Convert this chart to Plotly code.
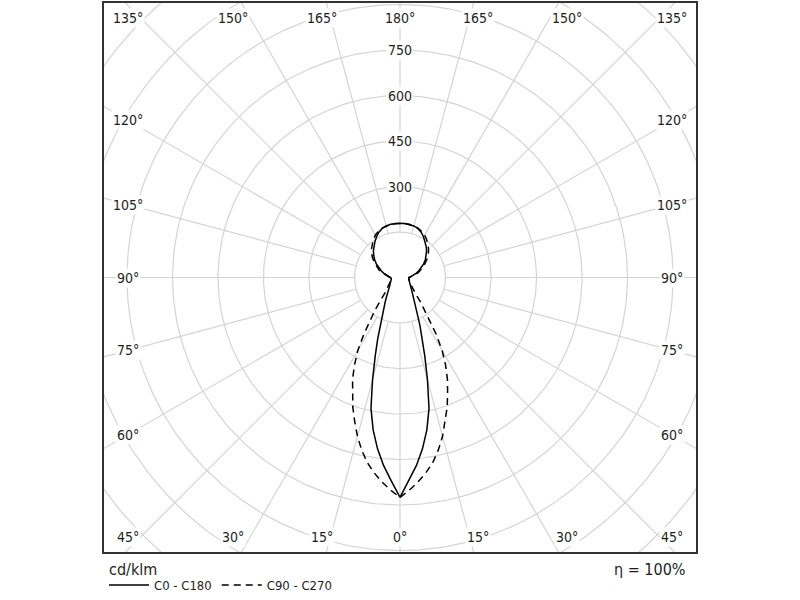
import numpy as np
import plotly.graph_objects as go

# ---------------- data (cd/klm) ----------------
angles_deg = [0, 2.5, 5, 7.5, 10, 12.5, 15, 17.5, 20, 22.5, 25, 27.5, 30, 32.5, 35, 37.5, 40, 42.5, 45,
              50, 55, 60, 65, 70, 75, 80, 85, 90,
              95, 100, 105, 110, 115, 120, 125, 130, 135, 140, 145, 150, 155, 160, 165, 170, 175, 180]
c0_c180 = [725, 670, 622, 569, 510, 442, 350, 272, 215, 172, 137, 116, 100, 88, 78, 69, 62, 57, 52,
           45, 40, 36, 33, 31, 30, 29, 29, 30,
           36, 45, 56, 66, 77, 90, 102, 113, 124, 134, 144, 155, 165, 172, 176, 178, 179, 179]
c90_c270 = [725, 702, 677, 650, 620, 583, 542, 497, 455, 410, 370, 325, 278, 222, 168, 135, 105, 82, 68,
            53, 45, 40, 36, 33, 31, 30, 29, 29,
            38, 50, 62, 74, 85, 96, 110, 122, 133, 143, 153, 162, 168, 173, 176, 178, 179, 179]
series_names = ["C0 - C180", "C90 - C270"]

ring_values = [150, 300, 450, 600, 750, 900, 1050, 1200, 1350]
ring_label_values = [300, 450, 600, 750]
spoke_angles = list(range(0, 360, 15))
tick_angles = [0, 15, 30, 45, 60, 75, 90, 105, 120, 135, 150, 165, 180]
tick_labels = [f"{a}°" for a in tick_angles]
unit_label = "cd/klm"
efficiency_label = "η = 100%"

# ---------------- geometry / style ----------------
W, H = 800, 600
ML, MR, MT, MB = 104, 104, 3, 48
PX_PER_UNIT = 45.5 / 150.0
CX_PX = (ML + (W - MR)) / 2.0
CY_PX = (MT + (H - MB)) / 2.0
x_range = [-(CX_PX - ML) / PX_PER_UNIT, (W - MR - CX_PX) / PX_PER_UNIT]
y_range = [-(H - MB - CY_PX) / PX_PER_UNIT, (CY_PX - MT) / PX_PER_UNIT]

FONT = "DejaVu Sans Condensed, DejaVu Sans, Verdana, sans-serif"
GRID_COLOR = "#d4d4d4"
TEXT_COLOR = "#1e1e1e"


def polar_xy(theta_deg, r, side=1.0):
    t = np.radians(np.asarray(theta_deg, dtype=float))
    r = np.asarray(r, dtype=float)
    return side * r * np.sin(t), -r * np.cos(t)


fig = go.Figure()

# grid: rings
gx, gy = [], []
phi = np.linspace(0, 360, 361)
for rv in ring_values:
    x, y = polar_xy(phi, np.full_like(phi, rv))
    gx += list(x) + [None]
    gy += list(y) + [None]
# grid: spokes (from the innermost ring outward)
for a in spoke_angles:
    x, y = polar_xy([a, a], [ring_values[0], 1500])
    gx += list(x) + [None]
    gy += list(y) + [None]
fig.add_trace(go.Scatter(x=gx, y=gy, mode="lines", line=dict(color=GRID_COLOR, width=1.2),
                         hoverinfo="skip", showlegend=False))

# curves (right half C0 / C90, left half C180 / C270, mirrored)
for vals, name, dash in [(c0_c180, series_names[0], "solid"), (c90_c270, series_names[1], "7px,5px")]:
    xr, yr = polar_xy(angles_deg, vals, 1.0)
    xl, yl = polar_xy(angles_deg[::-1], vals[::-1], -1.0)
    fig.add_trace(go.Scatter(x=np.concatenate([xr, xl]), y=np.concatenate([yr, yl]), mode="lines",
                             name=name, line=dict(color="black", width=1.5, dash=dash)))

annotations = []
# radial value labels along the 180° spoke
for rv in ring_label_values:
    x, y = polar_xy(180, rv)
    annotations.append(dict(x=float(x), y=float(y), xref="x", yref="y", text=str(rv), showarrow=False,
                            font=dict(family=FONT, size=14, color=TEXT_COLOR), bgcolor="white", borderpad=1))

# angle labels near the frame edge
RX, RY = 272 / PX_PER_UNIT, 290 / PX_PER_UNIT
CLX, CLY = 272 / PX_PER_UNIT, 259.5 / PX_PER_UNIT
for a, lab in zip(tick_angles, tick_labels):
    for side in ([1.0] if a in (0, 180) else [1.0, -1.0]):
        dx, dy = polar_xy(a, 1.0, side)
        s = min(RX / abs(dx) if abs(dx) > 1e-9 else 1e9, RY / abs(dy) if abs(dy) > 1e-9 else 1e9)
        px, py = float(np.clip(dx * s, -CLX, CLX)), float(np.clip(dy * s, -CLY, CLY))
        annotations.append(dict(x=px, y=py, xref="x", yref="y", text=lab, showarrow=False,
                                font=dict(family=FONT, size=14, color=TEXT_COLOR), bgcolor="white", borderpad=1))

plot_h = H - MT - MB
annotations.append(dict(x=0.005, y=-(569 - (H - MB)) / plot_h, xref="paper", yref="paper", text=unit_label,
                        showarrow=False, xanchor="left", yanchor="middle",
                        font=dict(family=FONT, size=16, color=TEXT_COLOR)))
annotations.append(dict(x=(687 - ML) / (W - ML - MR), y=-(569 - (H - MB)) / plot_h, xref="paper", yref="paper",
                        text=efficiency_label, showarrow=False, xanchor="right", yanchor="middle",
                        font=dict(family=FONT, size=16, color=TEXT_COLOR)))

fig.update_layout(
    width=W, height=H, margin=dict(l=ML, r=MR, t=MT, b=MB, pad=0, autoexpand=False),
    paper_bgcolor="white", plot_bgcolor="white",
    xaxis=dict(range=x_range, showgrid=False, zeroline=False, showticklabels=False, ticks="",
               showline=True, mirror=True, linecolor="#333333", linewidth=2, fixedrange=True),
    yaxis=dict(range=y_range, showgrid=False, zeroline=False, showticklabels=False, ticks="",
               showline=True, mirror=True, linecolor="#333333", linewidth=2, fixedrange=True),
    showlegend=True,
    legend=dict(orientation="h", x=0.0, xanchor="left", y=-(585 - (H - MB)) / plot_h, yanchor="middle",
                font=dict(family=FONT, size=13, color=TEXT_COLOR), bgcolor="rgba(0,0,0,0)",
                borderwidth=0, itemwidth=40, tracegroupgap=0),
    annotations=annotations,
)

fig.write_html("out.html", config={"displayModeBar": False},
               post_script="document.body.style.margin='0px';")
